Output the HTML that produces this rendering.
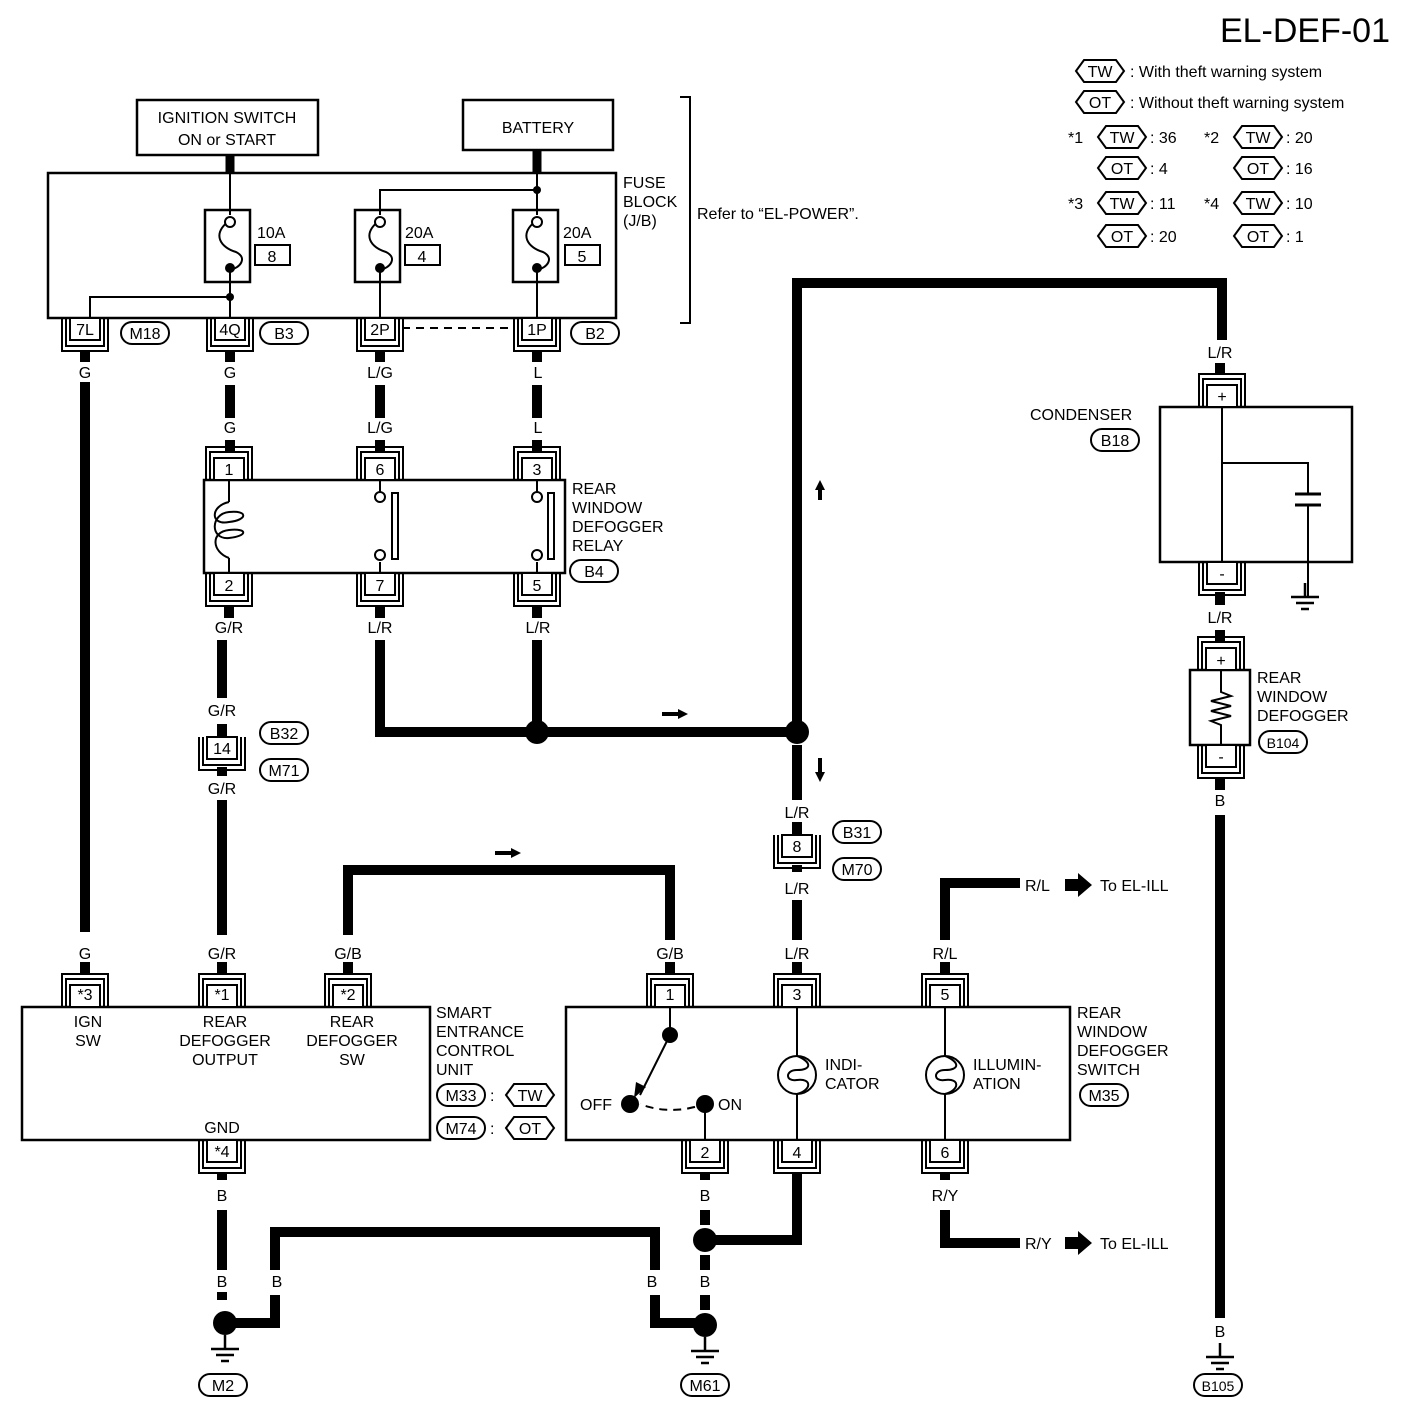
<!DOCTYPE html>
<html><head><meta charset="utf-8"><style>
html,body{margin:0;padding:0;background:#fff}
svg{display:block}
text{font-family:"Liberation Sans",Arial,sans-serif;font-size:16px;fill:#000}
</style></head><body>
<svg width="1408" height="1412" viewBox="0 0 1408 1412" xmlns="http://www.w3.org/2000/svg">
<defs>
<g id="cb"><rect x="-15" y="0" width="30" height="22" fill="#fff" stroke="#000" stroke-width="2"/><path d="M-19,0V28H19V0M-23,0V33H23V0" fill="none" stroke="#000" stroke-width="2"/></g>
<g id="ct"><rect x="-15" y="-22" width="30" height="22" fill="#fff" stroke="#000" stroke-width="2"/><path d="M-19,0V-28H19V0M-23,0V-33H23V0" fill="none" stroke="#000" stroke-width="2"/></g>
<polygon id="hex" points="-24,0 -16,-11 16,-11 24,0 16,11 -16,11" fill="#fff" stroke="#000" stroke-width="2"/>
<rect id="pill" x="-24" y="-11" width="48" height="22" rx="11" fill="#fff" stroke="#000" stroke-width="2"/>
<g id="gnd"><path d="M0,0V14M-14,14H14M-9,20H9M-4,26H4" stroke="#000" stroke-width="2.5" fill="none"/></g>
</defs>

<text x="1390" y="42" text-anchor="end" style="font-size:34px">EL-DEF-01</text>
<!-- legend -->
<use href="#hex" x="1100" y="71"/><text x="1100" y="77" text-anchor="middle">TW</text><text x="1130" y="77">: With theft warning system</text>
<use href="#hex" x="1100" y="102"/><text x="1100" y="108" text-anchor="middle">OT</text><text x="1130" y="108">: Without theft warning system</text>
<text x="1068" y="143">*1</text><use href="#hex" x="1122" y="137"/><text x="1122" y="143" text-anchor="middle">TW</text><text x="1150" y="143">: 36</text>
<text x="1204" y="143">*2</text><use href="#hex" x="1258" y="137"/><text x="1258" y="143" text-anchor="middle">TW</text><text x="1286" y="143">: 20</text>
<use href="#hex" x="1122" y="168"/><text x="1122" y="174" text-anchor="middle">OT</text><text x="1150" y="174">: 4</text>
<use href="#hex" x="1258" y="168"/><text x="1258" y="174" text-anchor="middle">OT</text><text x="1286" y="174">: 16</text>
<text x="1068" y="209">*3</text><use href="#hex" x="1122" y="203"/><text x="1122" y="209" text-anchor="middle">TW</text><text x="1150" y="209">: 11</text>
<text x="1204" y="209">*4</text><use href="#hex" x="1258" y="203"/><text x="1258" y="209" text-anchor="middle">TW</text><text x="1286" y="209">: 10</text>
<use href="#hex" x="1122" y="236"/><text x="1122" y="242" text-anchor="middle">OT</text><text x="1150" y="242">: 20</text>
<use href="#hex" x="1258" y="236"/><text x="1258" y="242" text-anchor="middle">OT</text><text x="1286" y="242">: 1</text>

<g fill="none" stroke="#000">
<rect x="137" y="100" width="181" height="55" stroke-width="2.5"/>
<rect x="463" y="100" width="150" height="50" stroke-width="2.5"/>
<path d="M230,155V173M537,150V173" stroke-width="9"/>
<rect x="48" y="173" width="568" height="145" stroke-width="2.5"/>
<path d="M230,173V215M537,173V215M537,190H380V215M230,270V318M230,297H90V318M380,270V318M537,270V318" stroke-width="2"/>
<rect x="205" y="210" width="45" height="72" stroke-width="2.5"/>
<rect x="355" y="210" width="45" height="72" stroke-width="2.5"/>
<rect x="513" y="210" width="45" height="72" stroke-width="2.5"/>
<path d="M230,220C210,235 222,248 236,252C248,258 240,268 230,270M380,220C360,235 372,248 386,252C398,258 390,268 380,270M537,220C517,235 529,248 543,252C555,258 547,268 537,270" stroke-width="2"/>
<rect x="255" y="245" width="35" height="20" stroke-width="2"/>
<rect x="405" y="245" width="35" height="20" stroke-width="2"/>
<rect x="565" y="245" width="35" height="20" stroke-width="2"/>
<path d="M680,97H690V323H680" stroke-width="2"/>
<path d="M402,328H512" stroke-width="2" stroke-dasharray="8,6"/>
</g>
<g fill="#000"><circle cx="537" cy="190" r="4"/><circle cx="230" cy="297" r="4"/><circle cx="230" cy="268" r="5"/><circle cx="380" cy="268" r="5"/><circle cx="537" cy="268" r="5"/></g>
<g fill="#fff" stroke="#000" stroke-width="2"><circle cx="230" cy="222" r="5"/><circle cx="380" cy="222" r="5"/><circle cx="537" cy="222" r="5"/></g>
<text x="227" y="123" text-anchor="middle">IGNITION SWITCH</text><text x="227" y="145" text-anchor="middle">ON or START</text>
<text x="538" y="133" text-anchor="middle">BATTERY</text>
<text x="257" y="238">10A</text><text x="272" y="262" text-anchor="middle">8</text>
<text x="405" y="238">20A</text><text x="422" y="262" text-anchor="middle">4</text>
<text x="563" y="238">20A</text><text x="582" y="262" text-anchor="middle">5</text>
<text x="623" y="188">FUSE</text><text x="623" y="207">BLOCK</text><text x="623" y="226">(J/B)</text>
<text x="697" y="219">Refer to “EL-POWER”.</text>

<use href="#cb" x="85" y="318"/><text x="85" y="335" text-anchor="middle">7L</text>
<use href="#cb" x="230" y="318"/><text x="230" y="335" text-anchor="middle">4Q</text>
<use href="#cb" x="380" y="318"/><text x="380" y="335" text-anchor="middle">2P</text>
<use href="#cb" x="537" y="318"/><text x="537" y="335" text-anchor="middle">1P</text>
<use href="#pill" x="145" y="333"/><text x="145" y="339" text-anchor="middle">M18</text>
<use href="#pill" x="284" y="333"/><text x="284" y="339" text-anchor="middle">B3</text>
<use href="#pill" x="595" y="333"/><text x="595" y="339" text-anchor="middle">B2</text>

<g stroke="#000" stroke-width="10" fill="none">
<path d="M85,351V362M230,351V362M380,351V362M537,351V362"/>
<path d="M85,382V932M230,385V418M380,385V418M537,385V418"/>
<path d="M230,440V453M380,440V453M537,440V453"/>
</g>
<text x="85" y="378" text-anchor="middle">G</text><text x="230" y="378" text-anchor="middle">G</text><text x="380" y="378" text-anchor="middle">L/G</text><text x="538" y="378" text-anchor="middle">L</text>
<text x="230" y="433" text-anchor="middle">G</text><text x="380" y="433" text-anchor="middle">L/G</text><text x="538" y="433" text-anchor="middle">L</text>

<!-- relay -->
<rect x="204" y="480" width="361" height="93" fill="#fff" stroke="#000" stroke-width="2.5"/>
<use href="#ct" x="229" y="480"/><text x="229" y="475" text-anchor="middle">1</text>
<use href="#ct" x="380" y="480"/><text x="380" y="475" text-anchor="middle">6</text>
<use href="#ct" x="537" y="480"/><text x="537" y="475" text-anchor="middle">3</text>
<use href="#cb" x="229" y="573"/><text x="229" y="591" text-anchor="middle">2</text>
<use href="#cb" x="380" y="573"/><text x="380" y="591" text-anchor="middle">7</text>
<use href="#cb" x="537" y="573"/><text x="537" y="591" text-anchor="middle">5</text>
<g fill="none" stroke="#000" stroke-width="2">
<path d="M229,480V502M229,558V573M380,480V492M380,562V573M537,480V492M537,562V573"/>
<path d="M229,502C210,506 210,526 229,522C248,520 248,510 229,512C210,514 210,540 229,538C248,536 248,528 229,530C210,532 212,552 229,558"/>
<rect x="392" y="493" width="6" height="66"/><rect x="548" y="493" width="6" height="66"/>
<circle cx="380" cy="497" r="5" fill="#fff"/><circle cx="380" cy="555" r="5" fill="#fff"/>
<circle cx="537" cy="497" r="5" fill="#fff"/><circle cx="537" cy="555" r="5" fill="#fff"/>
</g>
<text x="572" y="494">REAR</text><text x="572" y="513">WINDOW</text><text x="572" y="532">DEFOGGER</text><text x="572" y="551">RELAY</text>
<use href="#pill" x="594" y="571"/><text x="594" y="577" text-anchor="middle">B4</text>

<text x="229" y="633" text-anchor="middle">G/R</text><text x="380" y="633" text-anchor="middle">L/R</text><text x="538" y="633" text-anchor="middle">L/R</text>
<g stroke="#000" stroke-width="10" fill="none">
<path d="M229,606V618M380,606V618M537,606V618"/>
<path d="M222,640V698M380,640V732H797M537,640V732"/>
<path d="M797,732V283H1222V340"/>
<path d="M797,745V800M797,822V835M222,724V737M222,767V776M222,800V935M797,865V872M797,900V940"/>
<path d="M348,935V870H670V940"/>
<path d="M945,940V883H1020M945,1210V1243H1020M945,1172V1180"/>
<path d="M85,962V974M222,962V974M348,962V974M670,962V974M797,962V974M945,962V974"/>
<path d="M222,1172V1180M222,1210V1270M222,1292V1300M705,1172V1180M797,1172V1240H705M705,1210V1225M705,1255V1270M705,1295V1310"/>
<path d="M225,1323H275V1295M275,1270V1232H655V1270M655,1295V1323H705"/>
<path d="M1220,363V375M1220,592V605M1220,630V642M1220,778V790M1220,815V1318"/>
</g>
<g fill="#000"><circle cx="537" cy="732" r="12"/><circle cx="797" cy="732" r="12"/><circle cx="705" cy="1240" r="12"/><circle cx="225" cy="1323" r="12"/><circle cx="705" cy="1325" r="12"/></g>
<g fill="#000"><path d="M662,712H678V709L688,714L678,719V716H662Z"/><path d="M495,851H511V848L521,853L511,858V855H495Z"/><path d="M818,500V490H815L820,480L825,490H822V500Z"/><path d="M818,758V772H815L820,782L825,772H822V758Z"/>
<path d="M1065,879H1078V873L1092,885L1078,897V891H1065Z"/><path d="M1065,1237H1078V1231L1092,1243L1078,1255V1249H1065Z"/></g>

<!-- G/R inline connector -->
<text x="222" y="716" text-anchor="middle">G/R</text>
<use href="#cb" x="222" y="737"/><text x="222" y="754" text-anchor="middle">14</text>
<use href="#pill" x="284" y="733"/><text x="284" y="739" text-anchor="middle">B32</text>
<use href="#pill" x="284" y="770"/><text x="284" y="776" text-anchor="middle">M71</text>
<text x="222" y="794" text-anchor="middle">G/R</text>

<!-- L/R inline connector 8 -->
<text x="797" y="818" text-anchor="middle">L/R</text>
<use href="#cb" x="797" y="835"/><text x="797" y="852" text-anchor="middle">8</text>
<use href="#pill" x="857" y="832"/><text x="857" y="838" text-anchor="middle">B31</text>
<use href="#pill" x="857" y="869"/><text x="857" y="875" text-anchor="middle">M70</text>
<text x="797" y="894" text-anchor="middle">L/R</text>

<text x="85" y="959" text-anchor="middle">G</text><text x="222" y="959" text-anchor="middle">G/R</text><text x="348" y="959" text-anchor="middle">G/B</text>
<text x="670" y="959" text-anchor="middle">G/B</text><text x="797" y="959" text-anchor="middle">L/R</text><text x="945" y="959" text-anchor="middle">R/L</text>
<text x="1025" y="891">R/L</text><text x="1100" y="891">To EL-ILL</text>
<text x="1025" y="1249">R/Y</text><text x="1100" y="1249">To EL-ILL</text>

<!-- SECU -->
<rect x="22" y="1007" width="408" height="133" fill="#fff" stroke="#000" stroke-width="2.5"/>
<use href="#ct" x="85" y="1007"/><text x="85" y="1000" text-anchor="middle">*3</text>
<use href="#ct" x="222" y="1007"/><text x="222" y="1000" text-anchor="middle">*1</text>
<use href="#ct" x="348" y="1007"/><text x="348" y="1000" text-anchor="middle">*2</text>
<use href="#cb" x="222" y="1140"/><text x="222" y="1157" text-anchor="middle">*4</text>
<text x="88" y="1027" text-anchor="middle">IGN</text><text x="88" y="1046" text-anchor="middle">SW</text>
<text x="225" y="1027" text-anchor="middle">REAR</text><text x="225" y="1046" text-anchor="middle">DEFOGGER</text><text x="225" y="1065" text-anchor="middle">OUTPUT</text>
<text x="352" y="1027" text-anchor="middle">REAR</text><text x="352" y="1046" text-anchor="middle">DEFOGGER</text><text x="352" y="1065" text-anchor="middle">SW</text>
<text x="222" y="1133" text-anchor="middle">GND</text>
<text x="436" y="1018">SMART</text><text x="436" y="1037">ENTRANCE</text><text x="436" y="1056">CONTROL</text><text x="436" y="1075">UNIT</text>
<use href="#pill" x="461" y="1095"/><text x="461" y="1101" text-anchor="middle">M33</text><text x="490" y="1101">:</text>
<use href="#hex" x="530" y="1095"/><text x="530" y="1101" text-anchor="middle">TW</text>
<use href="#pill" x="461" y="1128"/><text x="461" y="1134" text-anchor="middle">M74</text><text x="490" y="1134">:</text>
<use href="#hex" x="530" y="1128"/><text x="530" y="1134" text-anchor="middle">OT</text>

<!-- switch -->
<rect x="566" y="1007" width="504" height="133" fill="#fff" stroke="#000" stroke-width="2.5"/>
<use href="#ct" x="670" y="1007"/><text x="670" y="1000" text-anchor="middle">1</text>
<use href="#ct" x="797" y="1007"/><text x="797" y="1000" text-anchor="middle">3</text>
<use href="#ct" x="945" y="1007"/><text x="945" y="1000" text-anchor="middle">5</text>
<use href="#cb" x="705" y="1140"/><text x="705" y="1158" text-anchor="middle">2</text>
<use href="#cb" x="797" y="1140"/><text x="797" y="1158" text-anchor="middle">4</text>
<use href="#cb" x="945" y="1140"/><text x="945" y="1158" text-anchor="middle">6</text>
<g fill="none" stroke="#000" stroke-width="2">
<path d="M670,1007V1035M670,1035L640,1095M705,1104V1140M640,1104Q670,1116 705,1104" />
<path d="M797,1007V1056M797,1094V1140M945,1007V1056M945,1094V1140"/>
<circle cx="797" cy="1075" r="19"/><circle cx="945" cy="1075" r="19"/>
<path d="M797,1056C812,1062 812,1070 797,1070C785,1070 785,1082 797,1080C812,1078 812,1090 797,1094M945,1056C960,1062 960,1070 945,1070C933,1070 933,1082 945,1080C960,1078 960,1090 945,1094"/>
</g>
<path d="M640,1104Q670,1116 705,1104" stroke="#fff" stroke-width="3" stroke-dasharray="6,8" fill="none"/>
<g fill="#000"><circle cx="670" cy="1035" r="8"/><circle cx="630" cy="1104" r="9"/><circle cx="705" cy="1104" r="9"/><path d="M634,1098L636,1082L646,1087Z"/></g>
<text x="580" y="1110">OFF</text><text x="718" y="1110">ON</text>
<text x="825" y="1070">INDI-</text><text x="825" y="1089">CATOR</text>
<text x="973" y="1070">ILLUMIN-</text><text x="973" y="1089">ATION</text>
<text x="1077" y="1018">REAR</text><text x="1077" y="1037">WINDOW</text><text x="1077" y="1056">DEFOGGER</text><text x="1077" y="1075">SWITCH</text>
<use href="#pill" x="1104" y="1095"/><text x="1104" y="1101" text-anchor="middle">M35</text>

<text x="222" y="1201" text-anchor="middle">B</text><text x="705" y="1201" text-anchor="middle">B</text><text x="797" y="1201" text-anchor="middle">B</text><text x="945" y="1201" text-anchor="middle">R/Y</text>
<text x="222" y="1287" text-anchor="middle">B</text><text x="277" y="1287" text-anchor="middle">B</text><text x="652" y="1287" text-anchor="middle">B</text><text x="705" y="1287" text-anchor="middle">B</text>
<use href="#gnd" x="225" y="1335"/><use href="#pill" x="223" y="1385"/><text x="223" y="1391" text-anchor="middle">M2</text>
<use href="#gnd" x="705" y="1337"/><use href="#pill" x="705" y="1385"/><text x="705" y="1391" text-anchor="middle">M61</text>
<use href="#gnd" x="1220" y="1343"/><use href="#pill" x="1218" y="1385"/><text x="1218" y="1391" text-anchor="middle" style="font-size:14px">B105</text>
<text x="1220" y="1337" text-anchor="middle">B</text>

<!-- condenser -->
<text x="1220" y="358" text-anchor="middle">L/R</text>
<rect x="1160" y="407" width="192" height="155" fill="#fff" stroke="#000" stroke-width="2.5"/>
<use href="#ct" x="1222" y="407"/><text x="1222" y="402" text-anchor="middle">+</text>
<use href="#cb" x="1222" y="562"/><text x="1222" y="579" text-anchor="middle">-</text>
<g fill="none" stroke="#000" stroke-width="2">
<path d="M1222,407V562M1222,463H1308V494M1308,505V597"/>
<path d="M1295,494H1321M1295,505H1321" stroke-width="3"/>
</g>
<use href="#gnd" x="1305" y="583"/>
<text x="1030" y="420">CONDENSER</text>
<use href="#pill" x="1115" y="440"/><text x="1115" y="446" text-anchor="middle">B18</text>
<text x="1220" y="623" text-anchor="middle">L/R</text>

<rect x="1190" y="670" width="60" height="75" fill="#fff" stroke="#000" stroke-width="2.5"/>
<use href="#ct" x="1221" y="670"/><text x="1221" y="666" text-anchor="middle">+</text>
<use href="#cb" x="1221" y="745"/><text x="1221" y="762" text-anchor="middle">-</text>
<path d="M1221,670V692L1231,696L1211,701L1231,706L1211,711L1231,716L1211,721L1221,725V745" fill="none" stroke="#000" stroke-width="2"/>
<text x="1257" y="683">REAR</text><text x="1257" y="702">WINDOW</text><text x="1257" y="721">DEFOGGER</text>
<use href="#pill" x="1283" y="742"/><text x="1283" y="748" text-anchor="middle" style="font-size:14px">B104</text>
<text x="1220" y="806" text-anchor="middle">B</text>
</svg>
</body></html>
